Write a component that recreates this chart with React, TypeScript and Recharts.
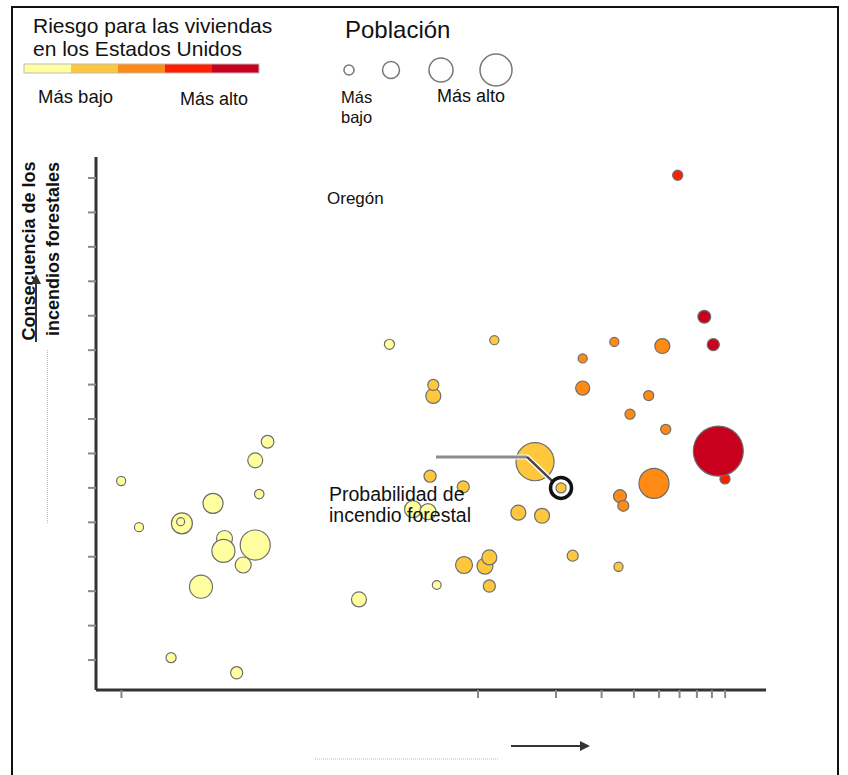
import React from 'react';
import { ScatterChart, Scatter, XAxis, YAxis, ZAxis } from 'recharts';

// risk classes, lowest to highest
const riskColors = ['#FFFFA0', '#FFC83C', '#FF8A14', '#FF1E00', '#C8001E'];
const riskLegendLabels = ['Más bajo', 'Más alto'];

// population legend (millions)
const popLegend = [1.6, 4.5, 9, 16];

// axis ticks (no labels in the original)
const xTicks = [0.00042, 0.01, 0.02, 0.03, 0.04, 0.05, 0.06, 0.07, 0.08, 0.09];
const yTicks = [1, 2, 3, 4, 5, 6, 7, 8, 9, 10, 11, 12, 13, 14, 15];

type Pt = { x: number; y: number; pop: number; label?: string };

const risk1: Pt[] = [
  { x: 0.000419, y: 6.2, pop: 1.3 },
  { x: 0.000491, y: 4.86, pop: 1.3 },
  { x: 0.000719, y: 4.97, pop: 6.9 },
  { x: 0.000711, y: 5.02, pop: 1.0 },
  { x: 0.000653, y: 1.07, pop: 1.6 },
  { x: 0.00117, y: 0.63, pop: 2.3 },
  { x: 0.000852, y: 3.13, pop: 8.3 },
  { x: 0.000948, y: 5.55, pop: 6.3 },
  { x: 0.00105, y: 4.53, pop: 4.0 },
  { x: 0.00104, y: 4.17, pop: 8.3 },
  { x: 0.00138, y: 4.34, pop: 14.1 },
  { x: 0.00124, y: 3.76, pop: 4.0 },
  { x: 0.00138, y: 6.8, pop: 3.5 },
  { x: 0.00154, y: 7.34, pop: 2.5 },
  { x: 0.00143, y: 5.82, pop: 1.4 },
  { x: 0.00455, y: 10.17, pop: 1.6 },
  { x: 0.00347, y: 2.76, pop: 3.5 },
  { x: 0.00561, y: 5.38, pop: 4.5 },
  { x: 0.00641, y: 5.31, pop: 4.0 },
  { x: 0.00693, y: 3.18, pop: 1.2 },
];

const risk2: Pt[] = [
  { x: 0.00672, y: 8.67, pop: 3.5 },
  { x: 0.00672, y: 8.99, pop: 1.9 },
  { x: 0.01156, y: 10.29, pop: 1.3 },
  { x: 0.0166, y: 6.76, pop: 22.6 },
  { x: 0.01431, y: 5.28, pop: 3.5 },
  { x: 0.01767, y: 5.19, pop: 3.5 },
  { x: 0.00883, y: 3.76, pop: 4.5 },
  { x: 0.01064, y: 3.73, pop: 4.0 },
  { x: 0.01106, y: 3.98, pop: 3.5 },
  { x: 0.01106, y: 3.15, pop: 2.3 },
  { x: 0.0232, y: 4.03, pop: 1.9 },
  { x: 0.03487, y: 3.71, pop: 1.3 },
  { x: 0.00653, y: 6.34, pop: 2.3 },
  { x: 0.00877, y: 6.03, pop: 2.3 },
  { x: 0.02092, y: 6.0, pop: 1.6, label: 'Oregón' },
];

const risk3: Pt[] = [
  { x: 0.02536, y: 9.76, pop: 1.3 },
  { x: 0.0336, y: 10.24, pop: 1.3 },
  { x: 0.02536, y: 8.9, pop: 3.1 },
  { x: 0.05148, y: 10.12, pop: 3.5 },
  { x: 0.0456, y: 8.68, pop: 1.6 },
  { x: 0.03863, y: 8.14, pop: 1.6 },
  { x: 0.05305, y: 7.7, pop: 1.6 },
  { x: 0.04781, y: 6.13, pop: 14.1 },
  { x: 0.03533, y: 5.76, pop: 2.6 },
  { x: 0.03639, y: 5.48, pop: 1.9 },
];

const risk4: Pt[] = [
  { x: 0.05902, y: 15.08, pop: 1.6 },
  { x: 0.08989, y: 6.26, pop: 1.6 },
];

const risk5: Pt[] = [
  { x: 0.07476, y: 10.97, pop: 2.6 },
  { x: 0.08099, y: 10.16, pop: 2.3 },
  { x: 0.08468, y: 7.07, pop: 39.1 },
];

const series = [risk1, risk2, risk3, risk4, risk5];

const POP_MAX = 40;
const AREA_MAX = Math.PI * 16 * POP_MAX;
const radiusOf = (pop: number) => Math.sqrt((pop / POP_MAX) * AREA_MAX / Math.PI);

const FONT = '"Liberation Sans", Arial, sans-serif';

const noLabel = () => <g />;

const makeBubble = (fill: string) => (props: any) => {
  const { cx, cy, payload, size } = props;
  const r = size ? Math.sqrt(size / Math.PI) : radiusOf(payload.pop);
  return (
    <g>
      <circle cx={cx} cy={cy} r={r} fill={fill} stroke="#6e6e6e" strokeWidth={1.2} />
      {payload.label && (
        <g>
          <polyline
            points={`${cx - 125},${cy - 31} ${cx - 34},${cy - 31} ${cx - 9},${cy - 7}`}
            fill="none"
            stroke="#fff"
            strokeWidth={5}
          />
          <polyline
            points={`${cx - 125},${cy - 31} ${cx - 34},${cy - 31}`}
            fill="none"
            stroke="#8c8c8c"
            strokeWidth={3}
          />
          <line x1={cx - 34} y1={cy - 31} x2={cx - 9} y2={cy - 7} stroke="#444" strokeWidth={2.5} />
          <circle cx={cx} cy={cy} r={10.5} fill="none" stroke="#111" strokeWidth={3.5} />
        </g>
      )}
    </g>
  );
};

function Overlay() {
  const segW = 47;
  return (
    <svg
      width={848}
      height={775}
      style={{ position: 'absolute', left: 0, top: 0, pointerEvents: 'none' }}
      fontFamily={FONT}
    >
      <defs>
        <marker id="arr" viewBox="0 0 10 10" refX="8" refY="5" markerWidth="5" markerHeight="5" orient="auto">
          <path d="M0,0 L10,5 L0,10 z" fill="#333" />
        </marker>
      </defs>
      <rect x={12} y={7} width={826} height={800} fill="none" stroke="#111" strokeWidth={2} />

      {/* risk legend */}
      <text x={33} y={33} fontSize={21} fill="#111">Riesgo para las viviendas</text>
      <text x={33} y={56} fontSize={21} fill="#111">en los Estados Unidos</text>
      {riskColors.map((c, i) => (
        <rect key={c} x={24 + i * segW} y={64} width={segW} height={9} fill={c} />
      ))}
      <rect x={24} y={64} width={segW * riskColors.length} height={9} fill="none" stroke="#bbb" strokeWidth={1} />
      <text x={38} y={103} fontSize={18.5} fill="#111">{riskLegendLabels[0]}</text>
      <text x={180} y={105} fontSize={18} fill="#111">{riskLegendLabels[1]}</text>

      {/* population legend */}
      <text x={345} y={38} fontSize={24} fill="#111">Población</text>
      {popLegend.map((p, i) => (
        <circle key={p} cx={[349, 391, 441, 496][i]} cy={70} r={radiusOf(p)} fill="#fff" stroke="#777" strokeWidth={1.5} />
      ))}
      <text x={341} y={103} fontSize={16.5} fill="#111">Más</text>
      <text x={341} y={123} fontSize={16.5} fill="#111">bajo</text>
      <text x={437} y={102} fontSize={18} fill="#111">Más alto</text>

      {/* annotations */}
      <text x={327} y={204} fontSize={17} fill="#111">Oregón</text>
      <text x={329} y={501} fontSize={19.5} fill="#111">Probabilidad de</text>
      <text x={329} y={522} fontSize={19.5} fill="#111">incendio forestal</text>

      {/* y axis title */}
      <text x={35} y={251} fontSize={18} fontWeight="bold" textAnchor="middle" transform="rotate(-90 35 251)" fill="#111">
        Consecuencia de los
      </text>
      <text x={59} y={249} fontSize={18} fontWeight="bold" textAnchor="middle" transform="rotate(-90 59 249)" fill="#111">
        incendios forestales
      </text>
      <line x1={36} y1={342} x2={36} y2={276} stroke="#333" strokeWidth={2} markerEnd="url(#arr)" />
      <line x1={47.5} y1={350} x2={47.5} y2={523} stroke="#bbb" strokeWidth={1} strokeDasharray="1 1" />

      {/* x axis hint */}
      <line x1={511} y1={746} x2={588} y2={746} stroke="#333" strokeWidth={2} markerEnd="url(#arr)" />
      <line x1={315} y1={759} x2={498} y2={759} stroke="#bbb" strokeWidth={1} strokeDasharray="1 1" />
    </svg>
  );
}

export default function App() {
  return (
    <div style={{ position: 'absolute', left: 0, top: 0, width: 848, height: 775, background: '#fff' }}>
      <ScatterChart width={848} height={775} margin={{ top: 157, right: 82, bottom: 55, left: 56 }}>
        <XAxis
          type="number"
          dataKey="x"
          scale="log"
          domain={[0.000335, 0.1294]}
          allowDataOverflow
          ticks={xTicks}
          interval={0}
          tick={noLabel}
          tickSize={8}
          height={30}
          axisLine={{ stroke: '#333', strokeWidth: 3 }}
          tickLine={{ stroke: '#888', strokeWidth: 2 }}
        />
        <YAxis
          type="number"
          dataKey="y"
          domain={[0.13, 15.61]}
          allowDataOverflow
          ticks={yTicks}
          interval={0}
          tick={noLabel}
          tickSize={8}
          width={40}
          axisLine={{ stroke: '#333', strokeWidth: 3 }}
          tickLine={{ stroke: '#888', strokeWidth: 2 }}
        />
        <ZAxis type="number" dataKey="pop" domain={[0, POP_MAX]} range={[0, AREA_MAX]} />
        {series.map((d, i) => (
          <Scatter key={i} data={d} fill={riskColors[i]} shape={makeBubble(riskColors[i])} isAnimationActive={false} />
        ))}
      </ScatterChart>
      <Overlay />
    </div>
  );
}
